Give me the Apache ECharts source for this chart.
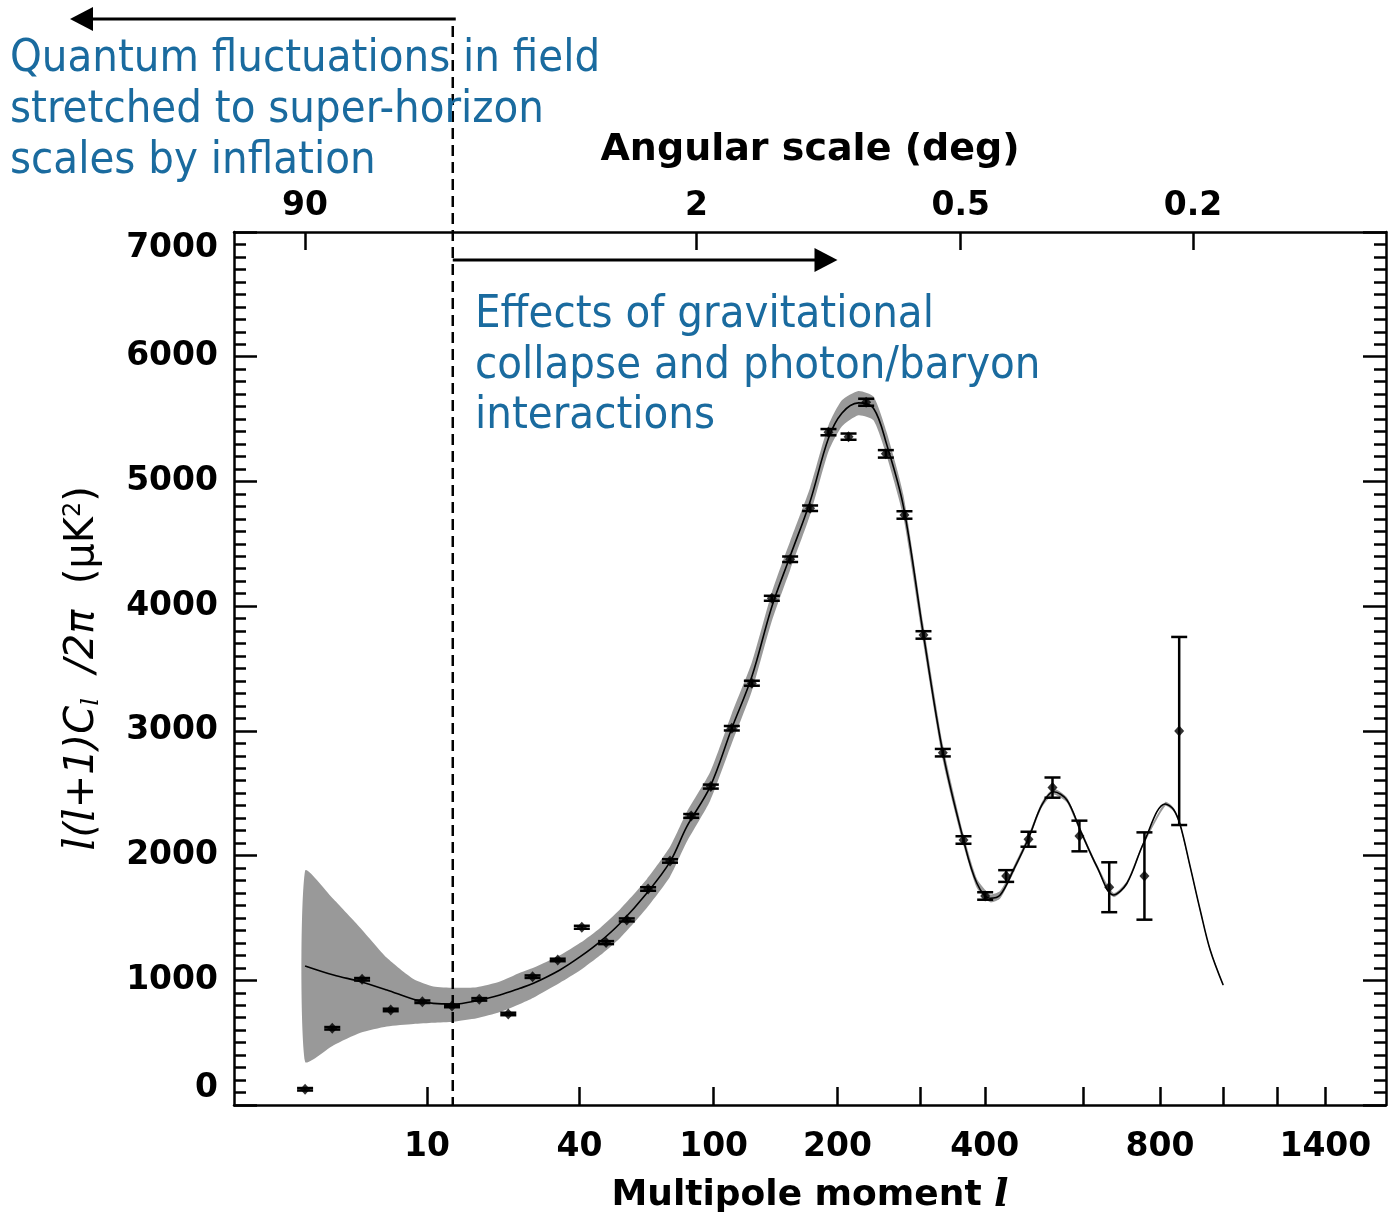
<!DOCTYPE html>
<html><head><meta charset="utf-8">
<script src="https://cdn.jsdelivr.net/npm/echarts@6/dist/echarts.min.js"></script>
<style>html,body{margin:0;padding:0;background:#fff;}#c{width:1389px;height:1217px;}</style>
</head><body><div id="c"></div>
<script>
// ---- data ----
const xMinL = 0.512, xMaxL = 1688;
const bottomTickL = [10,40,100,200,300,400,600,800,1000,1200,1400];
const bottomLabelL = [10,40,100,200,400,800,1400];
const topDeg = [90,2,0.5,0.2];

const theoryL = [2,3.1,4.5,6.3,8.6,10.7,13.2,16.6,20.6,24.6,27.6,34.3,40.2,46.7,54,65,75.9,84.6,97.9,111.6,125.5,140.6,155.6,173.3,190.9,204.5,222.4,239.6,255.7,276.9,304.1,332.3,364.4,386.5,409.4,427.2,451.9,481,508.1,532.6,561.8,592.1,631.8,673.2,708.1,753.2,815.3,840,860.4,891.3,923.2,956.1,1000];
const theoryV = [1115,1042,989,922,848,815,810,836,882,936,976,1083,1189,1310,1457,1698,1949,2232,2553,3021,3435,3996,4400,4840,5346,5547,5630,5587,5293,4798,3769,2825,2125,1778,1658,1684,1885,2139,2406,2512,2446,2205,1911,1684,1778,2099,2414,2370,2245,1911,1564,1243,962];
const bandLow  = [347,480,580,630,650,660,668,695,745,810,860,980,1080,1200,1340,1580,1830,2110,2440,2900,3320,3880,4290,4730,5240,5440,5530,5490,5200,4710,3690,2760,2080,1740,1625,1655,1860,2115,2385,2490,2425,2185,1893,1667,1762,2083,2398,2355,2230,1898,1552,1232,952];
const bandHigh = [1879,1650,1420,1180,1010,950,940,945,990,1060,1100,1200,1300,1420,1570,1810,2070,2350,2670,3140,3550,4110,4520,4950,5450,5650,5725,5680,5390,4890,3850,2890,2170,1815,1690,1715,1910,2165,2430,2535,2467,2225,1930,1700,1795,2115,2430,2385,2260,1924,1576,1254,972];

const pointL = [2.0,3.04,4.6,6.6,9.5,13.0,17.0,22.2,27.4,33.7,40.7,48.8,56.6,65.6,75.9,87,98.3,111.6,125.5,140.6,155.6,173.3,190.9,211.6,231.1,254.5,278.2,304.1,332.2,364.4,400.6,438.2,481,530.4,590.3,662.3,755.7,857.2];
const pointV = [126,615,1008,762,828,794,847,730,1029,1163,1425,1302,1484,1732,1957,2318,2553,3021,3382,4063,4376,4785,5395,5359,5635,5221,4731,3769,2825,2125,1676,1836,2131,2545,2157,1746,1836,2999];
const pointErr = [10,10,10,10,10,10,10,10,10,10,12,12,12,14,14,15,16,18,20,20,22,22,25,25,28,30,30,30,30,30,30,47,60,81,123,200,350,754];

const dividerL = 13.1;   // dashed boundary
const arrowRightL = 200; // tip of the right arrow

// ---- helpers ----
const Q = l => Math.pow(l, 0.25);   // axis scale is l^(1/4)
const BLUE = '#1a6b9f';
const TICKFONT = {fontFamily:'DejaVu Sans', fontSize:33, fontWeight:'bold', color:'#000'};

const theoryData = theoryL.map((l,i)=>[Q(l), theoryV[i]]);
const pointData = pointL.map((l,i)=>[Q(l), pointV[i], pointErr[i]]);

const chart = echarts.init(document.getElementById('c'), null, {renderer:'canvas'});
const axisLine = {show:true, onZero:false, lineStyle:{color:'#000', width:2.5}};
const option = {
  backgroundColor:'#fff',
  animation:false,
  grid:{left:234, right:3, top:232, bottom:112, containLabel:false, outerBoundsMode:'none'},
  xAxis:[{
    type:'value', position:'bottom', min:Q(xMinL), max:Q(xMaxL),
    axisLine:axisLine,
    axisTick:{show:true, inside:true, length:18, lineStyle:{color:'#000', width:2.5}, customValues: bottomTickL.map(Q)},
    axisLabel:Object.assign({show:true, margin:26, customValues: bottomLabelL.map(Q),
      formatter:v=>String(Math.round(Math.pow(v,4)))}, TICKFONT),
    splitLine:{show:false},
    name:'Multipole moment {i|l}', nameLocation:'middle', nameGap:72,
    nameTextStyle:{fontFamily:'DejaVu Sans', fontSize:36, color:'#000', fontWeight:'bold',
      rich:{i:{fontFamily:'DejaVu Serif', fontStyle:'italic', fontSize:38, color:'#000'}}}
  },{
    type:'value', position:'top', min:Q(xMinL), max:Q(xMaxL),
    axisLine:axisLine,
    axisTick:{show:true, inside:true, length:18, lineStyle:{color:'#000', width:2.5}, customValues: topDeg.map(d=>Q(180/d))},
    axisLabel:Object.assign({show:true, margin:9, customValues: topDeg.map(d=>Q(180/d)),
      formatter:v=>String(parseFloat((180/Math.pow(v,4)).toPrecision(3)))}, TICKFONT),
    splitLine:{show:false},
    name:'Angular scale (deg)', nameLocation:'middle', nameGap:63,
    nameTextStyle:{fontFamily:'DejaVu Sans', fontSize:38, color:'#000', fontWeight:'bold'}
  }],
  yAxis:[{
    type:'value', position:'left', min:0, max:7000, interval:1000,
    axisLine:axisLine,
    axisTick:{show:true, inside:true, length:23, lineStyle:{color:'#000', width:2.5}},
    minorTick:{show:true, splitNumber:10, length:12, lineStyle:{color:'#000', width:2.5}},
    axisLabel:Object.assign({show:true, margin:16, formatter:v=>String(v),
      verticalAlignMinLabel:'bottom', verticalAlignMaxLabel:'top'}, TICKFONT),
    splitLine:{show:false}, minorSplitLine:{show:false},
    name:'{l|l}{i|(}{l|l}{i|+1)C}{s|l}{i|  /2π}  (μK{p|2})', nameLocation:'middle', nameGap:130,
    nameTextStyle:{fontFamily:'DejaVu Sans', fontSize:40, color:'#000',
      rich:{
        l:{fontFamily:'DejaVu Serif', fontStyle:'italic', fontSize:42, color:'#000'},
        i:{fontFamily:'DejaVu Sans', fontStyle:'italic', fontSize:40, color:'#000'},
        s:{fontFamily:'DejaVu Serif', fontStyle:'italic', fontSize:24, color:'#000', verticalAlign:'bottom', padding:[18,0,0,0]},
        p:{fontFamily:'DejaVu Sans', fontSize:24, color:'#000', verticalAlign:'top', padding:[0,0,16,0]}
      }}
  },{
    type:'value', position:'right', min:0, max:7000, interval:1000,
    axisLine:axisLine,
    axisTick:{show:true, inside:true, length:23, lineStyle:{color:'#000', width:2.5}},
    minorTick:{show:true, splitNumber:10, length:12, lineStyle:{color:'#000', width:2.5}},
    axisLabel:{show:false}, splitLine:{show:false}, minorSplitLine:{show:false}
  }],
  series:[
    { // cosmic variance band
      type:'custom', xAxisIndex:0, yAxisIndex:0, z:1, silent:true,
      data:[[Q(theoryL[0]), theoryV[0]]],
      renderItem:(params, api)=>{
        const pts = [];
        for (let i=0;i<theoryL.length;i++) pts.push(api.coord([Q(theoryL[i]), bandHigh[i]]));
        for (let i=theoryL.length-1;i>=0;i--) pts.push(api.coord([Q(theoryL[i]), bandLow[i]]));
        return {type:'polygon', shape:{points:pts, smooth:0.2}, style:{fill:'#999999', stroke:'none'}};
      }
    },
    { // theory curve
      type:'line', xAxisIndex:0, yAxisIndex:0, z:3, data:theoryData, smooth:0.35, showSymbol:false,
      lineStyle:{color:'#000', width:1.6}
    },
    { // error bars
      type:'custom', xAxisIndex:0, yAxisIndex:0, z:4, data:pointData,
      renderItem:(params, api)=>{
        const x = api.value(0), y = api.value(1), e = api.value(2);
        const top = api.coord([x, y+e]), bot = api.coord([x, y-e]);
        const hw = 8;
        return {type:'group', children:[
          {type:'line', shape:{x1:top[0], y1:top[1], x2:bot[0], y2:bot[1]}, style:{stroke:'#000', lineWidth:2.5}},
          {type:'line', shape:{x1:top[0]-hw, y1:top[1], x2:top[0]+hw, y2:top[1]}, style:{stroke:'#000', lineWidth:2.5}},
          {type:'line', shape:{x1:bot[0]-hw, y1:bot[1], x2:bot[0]+hw, y2:bot[1]}, style:{stroke:'#000', lineWidth:2.5}}
        ]};
      }
    },
    { // data points
      type:'scatter', xAxisIndex:0, yAxisIndex:0, z:5, data:pointData,
      symbol:'diamond', symbolSize:[10,11], itemStyle:{color:'#000'}
    }
  ]
};
chart.setOption(option);

// ---- annotations positioned from the axes ----
const dx = chart.convertToPixel({xAxisIndex:0}, Q(dividerL));
const tipR = chart.convertToPixel({xAxisIndex:0}, Q(arrowRightL));
const yTop = 19, yArr2 = 260, yBottom = chart.convertToPixel({yAxisIndex:0}, 0);
const FONT = '45px "DejaVu Sans Condensed", "Liberation Sans Narrow", "Liberation Sans"';
const txt = (t, x, y) => ({type:'text', left:x, top:y, z:20, silent:true,
  style:{text:t, fill:BLUE, font:FONT}});
chart.setOption({graphic:[
  {type:'line', z:15, silent:true, shape:{x1:dx, y1:26, x2:dx, y2:yBottom}, style:{stroke:'#000', lineWidth:2.5, lineDash:[11,6]}},
  {type:'line', z:15, silent:true, shape:{x1:dx+3, y1:yTop, x2:88, y2:yTop}, style:{stroke:'#000', lineWidth:3}},
  {type:'polygon', z:15, silent:true, shape:{points:[[70,yTop],[93,yTop-12],[93,yTop+12]]}, style:{fill:'#000'}},
  {type:'line', z:15, silent:true, shape:{x1:dx, y1:yArr2, x2:tipR-18, y2:yArr2}, style:{stroke:'#000', lineWidth:3}},
  {type:'polygon', z:15, silent:true, shape:{points:[[tipR,yArr2],[tipR-23,yArr2-12],[tipR-23,yArr2+12]]}, style:{fill:'#000'}},
  txt('Quantum fluctuations in field', 10, 37),
  txt('stretched to super-horizon', 10, 88),
  txt('scales by inflation', 10, 139),
  txt('Effects of gravitational', 475, 293),
  txt('collapse and photon/baryon', 475, 344),
  txt('interactions', 475, 394)
]});
</script></body></html>
